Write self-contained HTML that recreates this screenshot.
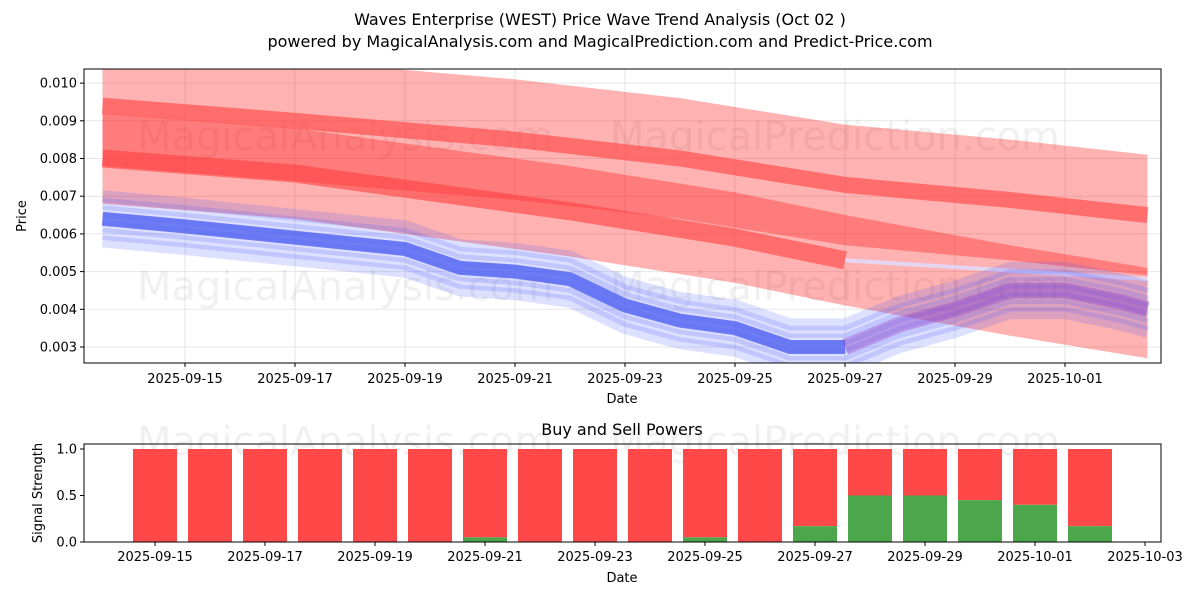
<!DOCTYPE html>
<html><head><meta charset="utf-8"><style>
body{margin:0;background:#fff;font-family:"Liberation Sans","DejaVu Sans",sans-serif}
svg text{font-family:"DejaVu Sans","Liberation Sans",sans-serif}
</style></head><body>
<svg id="c" width="1200" height="600" xmlns="http://www.w3.org/2000/svg">
<text x="600" y="25" font-size="16" text-anchor="middle">Waves Enterprise (WEST) Price Wave Trend Analysis (Oct 02 )</text>
<text x="600" y="47" font-size="16" text-anchor="middle">powered by MagicalAnalysis.com and MagicalPrediction.com and Predict-Price.com</text>
<g id="topg"></g><g id="botg"></g>
</svg>
<script>
// day numbers: 0 = 2025-09-01, 31 = 2025-10-01
const bandADays=[13.5,17,21,24,27,30,32.5];
const bandAVals=[0.0094,0.0090,0.0085,0.0080,0.0073,0.0069,0.0065];
const bandBDays=[13.5,17,20,22,25,27,30,32.5];
const bandBVals=[0.0080,0.0076,0.0070,0.0066,0.0059,0.0053,0.0045,0.0039];
const priceDays=[13.5,15,17,19,20,21,22,23,24,25,26,27,28,29,30,31,32,32.5];
const priceVals=[0.0064,0.0062,0.0059,0.0056,0.0051,0.0050,0.0048,0.0041,0.0037,0.0035,0.0030,0.0030,0.0036,0.0040,0.0045,0.0045,0.0042,0.0040];
const yTicks=[0.003,0.004,0.005,0.006,0.007,0.008,0.009,0.010];
const xTickDays=[15,17,19,21,23,25,27,29,31];
const xTickLabels=["2025-09-15","2025-09-17","2025-09-19","2025-09-21","2025-09-23","2025-09-25","2025-09-27","2025-09-29","2025-10-01"];
const barDays=[15,16,17,18,19,20,21,22,23,24,25,26,27,28,29,30,31,32];
const buyVals=[0,0,0,0,0,0,0.05,0,0,0,0.05,0,0.17,0.5,0.5,0.45,0.4,0.17];
const botTickDays=[15,17,19,21,23,25,27,29,31,33];
const botTickLabels=["2025-09-15","2025-09-17","2025-09-19","2025-09-21","2025-09-23","2025-09-25","2025-09-27","2025-09-29","2025-10-01","2025-10-03"];

const NS="http://www.w3.org/2000/svg";
function mk(p,t,a){const e=document.createElementNS(NS,t);for(const k in a)e.setAttribute(k,a[k]);p.appendChild(e);return e;}
const X=d=>185+(d-15)*55, Y=v=>347-(v-0.003)*37700;
const XB=d=>155+(d-15)*55, YB=v=>542-v*93;
const gTop=document.getElementById('topg'), gBot=document.getElementById('botg');
const defs=mk(gTop,'defs',{});const cp=mk(defs,'clipPath',{id:'cl'});mk(cp,'rect',{x:84,y:69,width:1077,height:294});
const g=mk(gTop,'g',{'clip-path':'url(#cl)'});
yTicks.forEach(v=>{mk(g,'line',{x1:84,x2:1161,y1:Y(v),y2:Y(v),stroke:'#e6e6e6','stroke-width':1});});
xTickDays.forEach(d=>{mk(g,'line',{x1:X(d),x2:X(d),y1:69,y2:363,stroke:'#e6e6e6','stroke-width':1});});
[[345,150],[835,150],[345,300],[835,300]].forEach((p,i)=>{const t=mk(g,'text',{x:p[0],y:p[1],'font-size':40,fill:'#000','fill-opacity':0.06,'text-anchor':'middle'});t.textContent=i%2?'MagicalPrediction.com':'MagicalAnalysis.com';});
function band(days,vals,hw,name){
  let up=days.map((d,i)=>X(d)+','+Y(vals[i]+hw)), dn=days.map((d,i)=>X(d)+','+Y(vals[i]-hw)).reverse();
  const p=mk(g,'polygon',{points:up.concat(dn).join(' '),fill:'#ff0000','fill-opacity':0.3});
  
}
band(bandADays,bandAVals,0.0016,'upper-band');
band(bandBDays,bandBVals,0.0012,'lower-band');
function line(days,vals,n,attrs,name){
  const pts=days.slice(0,n).map((d,i)=>X(d)+','+Y(vals[i])).join(' ');
  const e=mk(g,'polyline',Object.assign({points:pts,fill:'none','stroke-linejoin':'round'},attrs));
  
}
line(bandADays,bandAVals,7,{stroke:'#ff4040','stroke-opacity':0.6,'stroke-width':16},'upper-trend-line');
line(bandBDays,bandBVals,6,{stroke:'#ff4040','stroke-opacity':0.6,'stroke-width':18},'lower-trend-line');
line([27,32.5],[0.0053,0.0048],2,{stroke:'#ddddff','stroke-opacity':0.8,'stroke-width':4},'forecast-line');
const offs=[-0.0006,-0.0004,-0.0002,0,0.0002,0.0004,0.0006];
offs.forEach(o=>{
  const pts=priceDays.map((d,i)=>X(d)+','+Y(priceVals[i]+o)).join(' ');
  const e=mk(g,'polyline',{points:pts,fill:'none',stroke:'#4455ff','stroke-opacity':0.18,'stroke-width':12,'stroke-linejoin':'round'});
  
});
const n=priceDays.indexOf(27)+1;
line(priceDays,priceVals,n,{stroke:'#4a5cf0','stroke-opacity':0.75,'stroke-width':14},'price-line');
const tail=priceDays.slice(n-1).map((d,i)=>X(d)+','+Y(priceVals[n-1+i])).join(' ');
const te=mk(g,'polyline',{points:tail,fill:'none',stroke:'#8844cc','stroke-opacity':0.45,'stroke-width':16,'stroke-linejoin':'round'});

mk(gTop,'rect',{x:84,y:69,width:1077,height:294,fill:'none',stroke:'#000','stroke-width':1,});
yTicks.forEach(v=>{mk(gTop,'line',{x1:80,x2:84,y1:Y(v),y2:Y(v),stroke:'#000'});const t=mk(gTop,'text',{x:77,y:Y(v)+4.5,'font-size':13,'text-anchor':'end'});t.textContent=v.toFixed(3);});
xTickDays.forEach((d,i)=>{mk(gTop,'line',{x1:X(d),x2:X(d),y1:363,y2:367,stroke:'#000'});const t=mk(gTop,'text',{x:X(d),y:383,'font-size':13,'text-anchor':'middle'});t.textContent=xTickLabels[i];});
let t=mk(gTop,'text',{x:622,y:403,'font-size':13,'text-anchor':'middle',});t.textContent='Date';
t=mk(gTop,'text',{x:26,y:216,'font-size':13,'text-anchor':'middle',transform:'rotate(-90 26 216)',});t.textContent='Price';
t=mk(gBot,'text',{x:622,y:435,'font-size':16,'text-anchor':'middle',});t.textContent='Buy and Sell Powers';
[[345,455],[835,455]].forEach((p,i)=>{const w=mk(gBot,'text',{x:p[0],y:p[1],'font-size':40,fill:'#000','fill-opacity':0.06,'text-anchor':'middle'});w.textContent=i?'MagicalPrediction.com':'MagicalAnalysis.com';});
barDays.forEach((d,i)=>{
  const r=mk(gBot,'rect',{x:XB(d)-22,y:YB(1),width:44,height:YB(buyVals[i])-YB(1),fill:'#ff4848'});
  
  const b=mk(gBot,'rect',{x:XB(d)-22,y:YB(buyVals[i]),width:44,height:YB(0)-YB(buyVals[i]),fill:'#4ca64c'});
  
});
mk(gBot,'rect',{x:84,y:444,width:1077,height:98,fill:'none',stroke:'#000',});
[0,0.5,1].forEach(v=>{mk(gBot,'line',{x1:80,x2:84,y1:YB(v),y2:YB(v),stroke:'#000'});const s=mk(gBot,'text',{x:77,y:YB(v)+4.5,'font-size':13,'text-anchor':'end'});s.textContent=v.toFixed(1);});
botTickDays.forEach((d,i)=>{mk(gBot,'line',{x1:XB(d),x2:XB(d),y1:542,y2:546,stroke:'#000'});const s=mk(gBot,'text',{x:XB(d),y:561,'font-size':13,'text-anchor':'middle'});s.textContent=botTickLabels[i];});
t=mk(gBot,'text',{x:622,y:582,'font-size':13,'text-anchor':'middle',});t.textContent='Date';
t=mk(gBot,'text',{x:42,y:493,'font-size':13,'text-anchor':'middle',transform:'rotate(-90 42 493)',});t.textContent='Signal Strength';
</script>
</body></html>
